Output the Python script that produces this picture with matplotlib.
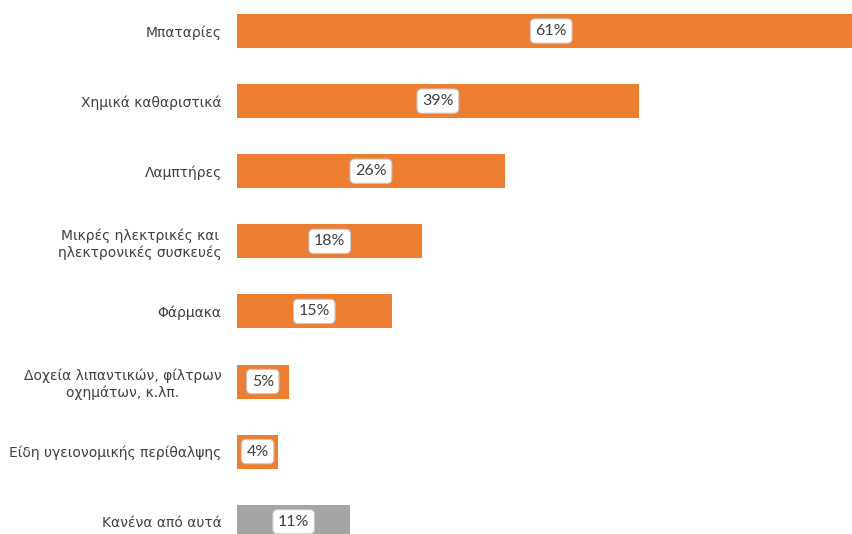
import matplotlib
matplotlib.use("Agg")
import matplotlib.pyplot as plt

categories = ["Μπαταρίες", "Χημικά καθαριστικά", "Λαμπτήρες",
              "Μικρές ηλεκτρικές και\nηλεκτρονικές συσκευές", "Φάρμακα",
              "Δοχεία λιπαντικών, φίλτρων\nοχημάτων, κ.λπ.",
              "Είδη υγειονομικής περίθαλψης", "Κανένα από αυτά"]
values = [61, 39, 26, 18, 15, 5, 4, 11]
value_labels = ["61%", "39%", "26%", "18%", "15%", "5%", "4%", "11%"]
bar_colors = ["#ED7D31"] * 7 + ["#A5A5A5"]

plt.rcParams['font.family'] = ['DejaVu Sans']

fig = plt.figure(figsize=(8.52, 5.34), dpi=100)
ax = fig.add_axes([237 / 852, 0, 1 - 237 / 852, 1])

ypos = list(range(len(categories)))
ax.barh(ypos, values, height=0.485, color=bar_colors)

for y, v, lab in zip(ypos, values, value_labels):
    ax.text(v / 2, y, lab, ha="center", va="center", fontsize=11.5, color="#404040",
            family=["Lato", "DejaVu Sans"],
            bbox=dict(boxstyle="round,pad=0.32,rounding_size=0.3", fc="white",
                      ec="#C8C8C8", lw=0.8))

ax.set_xlim(0, 59.7)
ax.set_ylim(7.175, -0.442)
ax.set_yticks(ypos)
ax.set_yticklabels(categories, fontsize=10, color="#404040", multialignment="center")
ax.tick_params(axis="y", length=0, pad=11)
ax.set_xticks([])
for s in ax.spines.values():
    s.set_visible(False)

fig.savefig("out.png", dpi=100)
